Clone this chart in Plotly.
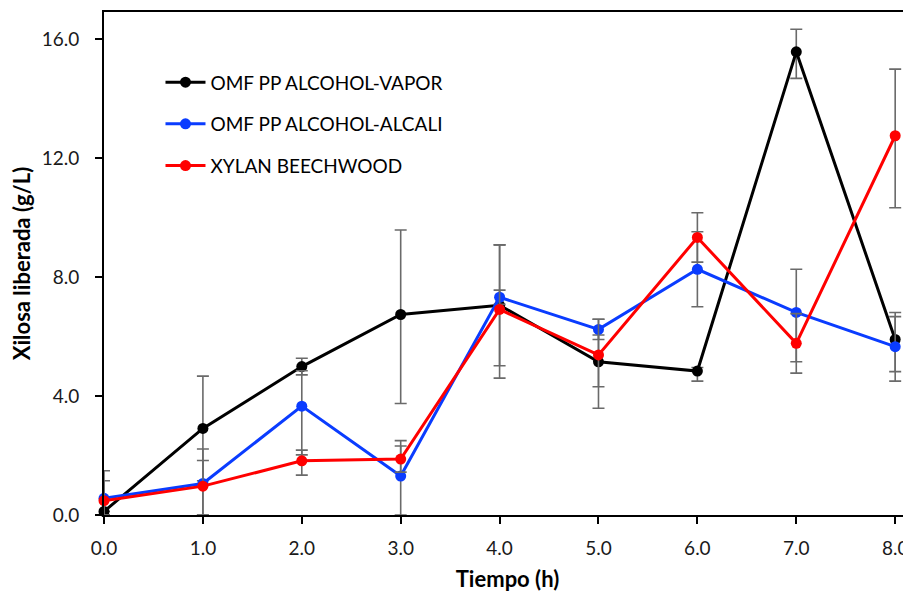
import plotly.graph_objects as go

tiempo = [0, 1, 2, 3, 4, 5, 6, 7, 8]
x_ticks = [0, 1, 2, 3, 4, 5, 6, 7, 8]
x_tick_labels = ["0.0", "1.0", "2.0", "3.0", "4.0", "5.0", "6.0", "7.0", "8.0"]
y_ticks = [0, 4, 8, 12, 16]
y_tick_labels = ["0.0", "4.0", "8.0", "12.0", "16.0"]

names = ["OMF PP ALCOHOL-VAPOR", "OMF PP ALCOHOL-ALCALI", "XYLAN BEECHWOOD"]
colors = ["#000000", "#0a3cff", "#ff0000"]

vapor = [0.12, 2.91, 4.99, 6.74, 7.05, 5.15, 4.84, 15.57, 5.90]
vapor_err_plus = [0.0, 1.76, 0.28, 2.84, 2.03, 0.90, 0.12, 0.76, 0.91]
vapor_err_minus = [0.0, 1.76, 0.28, 2.99, 2.03, 0.84, 0.34, 0.89, 1.40]

alcali = [0.56, 1.06, 3.66, 1.31, 7.32, 6.24, 8.26, 6.81, 5.66]
alcali_err_plus = [0.93, 1.16, 1.19, 1.19, 0.24, 0.34, 1.26, 1.45, 1.01]
alcali_err_minus = [0.56, 1.06, 1.64, 1.31, 0.24, 0.34, 1.26, 1.66, 0.84]

beech = [0.48, 0.97, 1.82, 1.88, 6.91, 5.38, 9.33, 5.77, 12.75]
beech_err_plus = [0.67, 0.86, 0.36, 0.44, 2.17, 1.20, 0.83, 1.00, 2.24]
beech_err_minus = [0.48, 0.97, 0.48, 0.44, 2.31, 1.79, 0.83, 1.00, 2.42]

series = [
    (vapor, vapor_err_plus, vapor_err_minus),
    (alcali, alcali_err_plus, alcali_err_minus),
    (beech, beech_err_plus, beech_err_minus),
]

FONT = "Lato"
fig = go.Figure()
for i, (vals, ep, em) in enumerate(series):
    fig.add_trace(go.Scatter(
        x=tiempo, y=vals, name=names[i], mode="lines+markers",
        line=dict(color=colors[i], width=3),
        marker=dict(color=colors[i], size=11),
        error_y=dict(type="data", array=ep, arrayminus=em, symmetric=False,
                     color="#6a6a6a", thickness=1.6, width=6),
        cliponaxis=False, legendgroup=f"g{i}",
    ))

fig.update_layout(
    width=903, height=584,
    margin=dict(l=96, r=0, t=4, b=77),
    paper_bgcolor="white", plot_bgcolor="white",
    font=dict(family=FONT, size=19, color="#1a1a1a"),
    showlegend=True,
    legend=dict(x=0.07, y=0.898, xanchor="left", yanchor="top",
                bgcolor="rgba(0,0,0,0)", traceorder="grouped", tracegroupgap=14,
                font=dict(family=FONT, size=19, color="#000000"),
                itemwidth=40),
    xaxis=dict(
        range=[0, 8.16], tickvals=x_ticks, ticktext=x_tick_labels,
        showgrid=False, zeroline=False, showline=True, linecolor="black",
        linewidth=2, mirror=True, ticks="outside", ticklen=7, tickwidth=2,
        tickcolor="black", ticklabelstandoff=8,
        title=dict(text="<b>Tiempo (h)</b>", font=dict(family=FONT, size=22, color="#000000"), standoff=17),
    ),
    yaxis=dict(
        range=[0, 16.91], tickvals=y_ticks, ticktext=y_tick_labels,
        showgrid=False, zeroline=False, showline=True, linecolor="black",
        linewidth=2, ticks="outside", ticklen=7, tickwidth=2,
        tickcolor="black", ticklabelstandoff=12,
        title=dict(text="<b>Xilosa liberada (g/L)</b>", font=dict(family=FONT, size=22, color="#000000"), standoff=8),
    ),
)

fig.write_html("out.html")
